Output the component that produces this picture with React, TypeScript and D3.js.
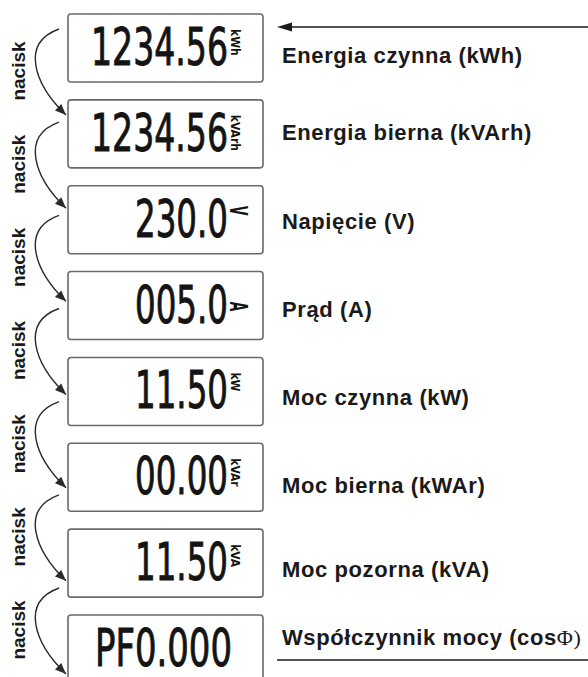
import React from 'react';
import * as d3 from 'd3';

// ---- data ----
const displayValues = ['1234.56', '1234.56', '230.0', '005.0', '11.50', '00.00', '11.50', 'PF0.000'];
const displayUnits = ['kWh', 'kVArh', 'V', 'A', 'kW', 'kVAr', 'kVA', ''];
const modeLabels = [
  'Energia czynna (kWh)',
  'Energia bierna (kVArh)',
  'Napięcie (V)',
  'Prąd (A)',
  'Moc czynna (kW)',
  'Moc bierna (kWAr)',
  'Moc pozorna (kVA)',
  'Współczynnik mocy (cosΦ)',
];
const pressLabel = 'nacisk';

// ---- layout nudges (not data) ----
const labelDy = [15, 6, 9, 11, 14, 16, 14, -4];

export default function App() {
  const W = 588;
  const H = 677;
  const n = displayValues.length;
  const boxY = d3.scaleLinear().domain([0, n - 1]).range([14, 615]);
  const arrowY = d3.scaleLinear().domain([0, n - 2]).range([29, 588]);
  const boxX0 = 68;
  const boxX1 = 263;
  const boxH = 68;
  const digitRight = 228;
  const cell = 22;
  const labelX = 282;

  const lcdFont = "'Liberation Sans Narrow', 'DejaVu Sans Condensed', sans-serif";
  const sansFont = "'Liberation Sans', Arial, sans-serif";

  const arrows = d3.range(n - 1).map((i) => {
    const s = arrowY(i);
    const p = d3.path();
    const x0 = 59, x1 = 66;
    const c2x = 34, c2y = s + 55;
    const ey = s + 86;
    p.moveTo(x0, s);
    p.bezierCurveTo(20, s + 14, c2x, c2y, x1, ey);
    const ang = Math.atan2(ey - c2y, x1 - c2x);
    const L = 11, hw = 4.5;
    const bx = x1 - L * Math.cos(ang), by = ey - L * Math.sin(ang);
    const head = d3.path();
    head.moveTo(x1, ey);
    head.lineTo(bx + hw * Math.sin(ang), by - hw * Math.cos(ang));
    head.lineTo(bx - hw * Math.sin(ang), by + hw * Math.cos(ang));
    head.closePath();
    return { curve: p.toString(), head: head.toString(), mid: s + 42 };
  });

  const topArrowHead = (() => {
    const p = d3.path();
    p.moveTo(277, 27);
    p.lineTo(292, 22.5);
    p.lineTo(292, 31.5);
    p.closePath();
    return p.toString();
  })();

  return (
    <svg width={W} height={H} style={{ position: 'absolute', left: 0, top: 0, background: '#fff' }}>
      <rect x={0} y={0} width={W} height={H} fill="#fff" />
      {/* top entry arrow */}
      <line x1={288} y1={27} x2={W} y2={27} stroke="#1a1a1a" strokeWidth={1.6} />
      <path d={topArrowHead} fill="#1a1a1a" />

      {displayValues.map((v, i) => {
        const top = boxY(i);
        const nDigits = v.replace(/\./g, '').length;
        const nDots = v.length - nDigits;
        const len = nDigits * cell + nDots * 5;
        const right = v.startsWith('PF') ? 232 : digitRight;
        const unit = displayUnits[i];
        const single = unit.length === 1;
        const cy = top + boxH / 2;
        const label = modeLabels[i];
        const phiIdx = label.indexOf('Φ');
        const singleY = unit === 'V' ? top + 25 : top + 35;
        return (
          <g key={i}>
            <rect x={boxX0} y={top} width={boxX1 - boxX0} height={boxH} rx={3} ry={3}
              fill="#fff" stroke="#6a6a6a" strokeWidth={1.6} />
            <text x={right - len} y={top + 51} fontFamily={lcdFont} fontSize={52}
              fill="#141414" stroke="#141414" strokeWidth={0.9}
              textLength={len} lengthAdjust="spacingAndGlyphs">{v}</text>
            {unit && !single && (
              <text transform={`translate(231,${top + 15}) rotate(90)`} fontFamily={lcdFont}
                fontSize={12} fontWeight="bold" fill="#141414">{unit}</text>
            )}
            {unit && single && (
              <text transform={`translate(230,${singleY}) rotate(90) scale(0.85,1.55)`} fontFamily={lcdFont}
                fontSize={16} fontWeight="bold" fill="#141414" textAnchor="middle">{unit}</text>
            )}
            <text x={labelX} y={cy + labelDy[i]} fontFamily={sansFont} fontWeight="bold"
              fontSize={22} letterSpacing={0.6} fill="#1a1a1a">
              {phiIdx >= 0 ? (
                <>
                  <tspan>{label.slice(0, phiIdx)}</tspan>
                  <tspan fontFamily="'Liberation Serif', serif" fontWeight="normal">{label.slice(phiIdx)}</tspan>
                </>
              ) : label}
            </text>
          </g>
        );
      })}

      {/* underline of last label */}
      <line x1={277} y1={660} x2={W} y2={660} stroke="#1a1a1a" strokeWidth={1.6} />

      {arrows.map((a, i) => (
        <g key={`a${i}`}>
          <path d={a.curve} fill="none" stroke="#2a2a2a" strokeWidth={1.4} />
          <path d={a.head} fill="#2a2a2a" />
          <text transform={`translate(25,${a.mid}) rotate(-90)`} textAnchor="middle"
            fontFamily={sansFont} fontWeight="bold" fontSize={19} fill="#1a1a1a">{pressLabel}</text>
        </g>
      ))}
    </svg>
  );
}
